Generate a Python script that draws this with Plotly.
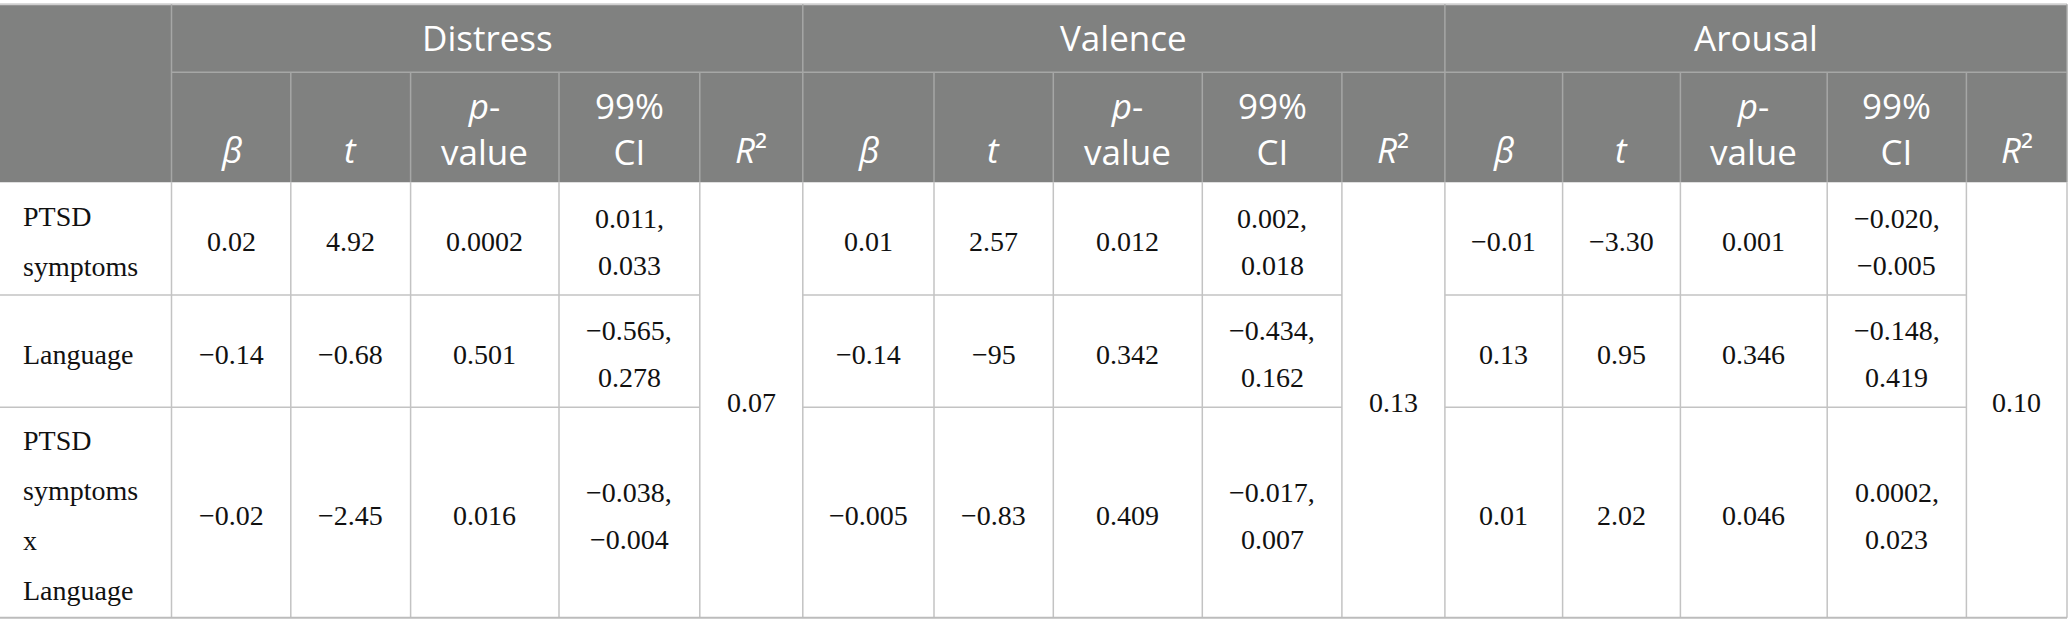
import plotly.graph_objects as go

# ---- table content ----
groups = ["Distress", "Valence", "Arousal"]
stat_headers = ["<i>β</i>", "<i>t</i>", "<i>p</i>-<br>value", "99%<br>CI", "<i>R</i>²"]
predictors = ["PTSD<br>symptoms", "Language", "PTSD<br>symptoms<br>x<br>Language"]

distress_beta = ["0.02", "−0.14", "−0.02"]
distress_t = ["4.92", "−0.68", "−2.45"]
distress_p = ["0.0002", "0.501", "0.016"]
distress_ci = ["0.011,<br>0.033", "−0.565,<br>0.278", "−0.038,<br>−0.004"]

valence_beta = ["0.01", "−0.14", "−0.005"]
valence_t = ["2.57", "−95", "−0.83"]
valence_p = ["0.012", "0.342", "0.409"]
valence_ci = ["0.002,<br>0.018", "−0.434,<br>0.162", "−0.017,<br>0.007"]

arousal_beta = ["−0.01", "0.13", "0.01"]
arousal_t = ["−3.30", "0.95", "2.02"]
arousal_p = ["0.001", "0.346", "0.046"]
arousal_ci = ["−0.020,<br>−0.005", "−0.148,<br>0.419", "0.0002,<br>0.023"]

r_squared = ["0.07", "0.13", "0.10"]

group_cols = [
    [distress_beta, distress_t, distress_p, distress_ci],
    [valence_beta, valence_t, valence_p, valence_ci],
    [arousal_beta, arousal_t, arousal_p, arousal_ci],
]

# ---- layout of the grid (pixels) ----
W, H = 2068, 635
col_edges = [0, 171.5, 290.8, 410.6, 559, 699.8, 802.8, 934, 1053.3, 1202.3,
             1341.9, 1444.9, 1562.6, 1680.4, 1827.2, 1966.4, 2067]
row_edges = [4.3, 72.3, 182.3, 295, 407.3, 617.7]

HEAD_BG = "#808180"
HEAD_LINE = "#a6a7a6"
BODY_LINE = "#c3c3c3"
TEXT = "#111111"
head_font = dict(family="Open Sans", size=35, color="white")
body_font = dict(family="Liberation Serif", size=28, color=TEXT)
HEAD_PITCH = 1.3 * 35   # plotly's own line spacing for <br>

fig = go.Figure()
shapes = []
annotations = []


def line(x0, y0, x1, y1, color, width=1.5):
    shapes.append(dict(type="line", xref="x", yref="y", x0=x0, y0=y0, x1=x1, y1=y1,
                       line=dict(color=color, width=width)))


def text_lines(txt, x, yc, pitch, font, xanchor="center"):
    parts = txt.split("<br>")
    n = len(parts)
    for i, p in enumerate(parts):
        y = yc + (i - (n - 1) / 2) * pitch
        annotations.append(dict(x=x, y=y, xref="x", yref="y", text=p, showarrow=False,
                                xanchor=xanchor, yanchor="middle", font=font))


# header background
shapes.append(dict(type="rect", xref="x", yref="y", x0=0, x1=col_edges[-1],
                   y0=row_edges[0], y1=row_edges[2], fillcolor=HEAD_BG, line=dict(width=0),
                   layer="below"))
line(0, row_edges[0], col_edges[-1], row_edges[0], "#cfcfcf", 2)
line(col_edges[1], row_edges[1], col_edges[-1], row_edges[1], HEAD_LINE)

# vertical lines
section_edges = [col_edges[1], col_edges[6], col_edges[11], col_edges[16]]
for x in col_edges[1:]:
    top = row_edges[0] if x in section_edges else row_edges[1]
    line(x, top, x, row_edges[2], HEAD_LINE)
    line(x, row_edges[2], x, row_edges[5], BODY_LINE)

# body horizontal lines, broken at the merged R2 columns
for y in row_edges[3:5]:
    line(0, y, col_edges[5], y, BODY_LINE)
    line(col_edges[6], y, col_edges[10], y, BODY_LINE)
    line(col_edges[11], y, col_edges[15], y, BODY_LINE)
line(0, row_edges[5], col_edges[-1], row_edges[5], "#bcbcbc", 2)

# group titles
for g, name in enumerate(groups):
    x0, x1 = col_edges[1 + 5 * g], col_edges[6 + 5 * g]
    text_lines(name, (x0 + x1) / 2, (row_edges[0] + row_edges[1]) / 2 - 1, 42, head_font)

# stat headers (bottom aligned)
for g in range(len(groups)):
    for s, lab in enumerate(stat_headers):
        c = 1 + 5 * g + s
        xc = (col_edges[c] + col_edges[c + 1]) / 2
        n = len(lab.split("<br>"))
        yc = 149 if n == 1 else 128.5
        annotations.append(dict(x=xc, y=yc, xref="x", yref="y", text=lab, showarrow=False,
                                xanchor="center", yanchor="middle", font=head_font))

# predictor labels
for r, lab in enumerate(predictors):
    yc = (row_edges[2 + r] + row_edges[3 + r]) / 2 + 3
    text_lines(lab, 21, yc, 50, body_font, xanchor="left")

# values
for g, cols in enumerate(group_cols):
    for s, vals in enumerate(cols):
        c = 1 + 5 * g + s
        xc = (col_edges[c] + col_edges[c + 1]) / 2
        for r, v in enumerate(vals):
            yc = (row_edges[2 + r] + row_edges[3 + r]) / 2 + 3
            text_lines(v, xc, yc, 47, body_font)
    c = 5 + 5 * g
    xc = (col_edges[c] + col_edges[c + 1]) / 2
    text_lines(r_squared[g], xc, (row_edges[2] + row_edges[5]) / 2 + 2, 47, body_font)

fig.update_layout(
    width=W, height=H,
    margin=dict(l=0, r=0, t=0, b=0),
    paper_bgcolor="white", plot_bgcolor="white",
    xaxis=dict(range=[0, W], visible=False, fixedrange=True),
    yaxis=dict(range=[H, 0], visible=False, fixedrange=True),
    shapes=shapes, annotations=annotations,
    showlegend=False,
)

# drop the browser's default body margin so the table sits at the page corner
fig.write_html("out.html", config={"displayModeBar": False},
               post_script="document.body.style.margin='0';document.body.style.overflow='hidden';")
